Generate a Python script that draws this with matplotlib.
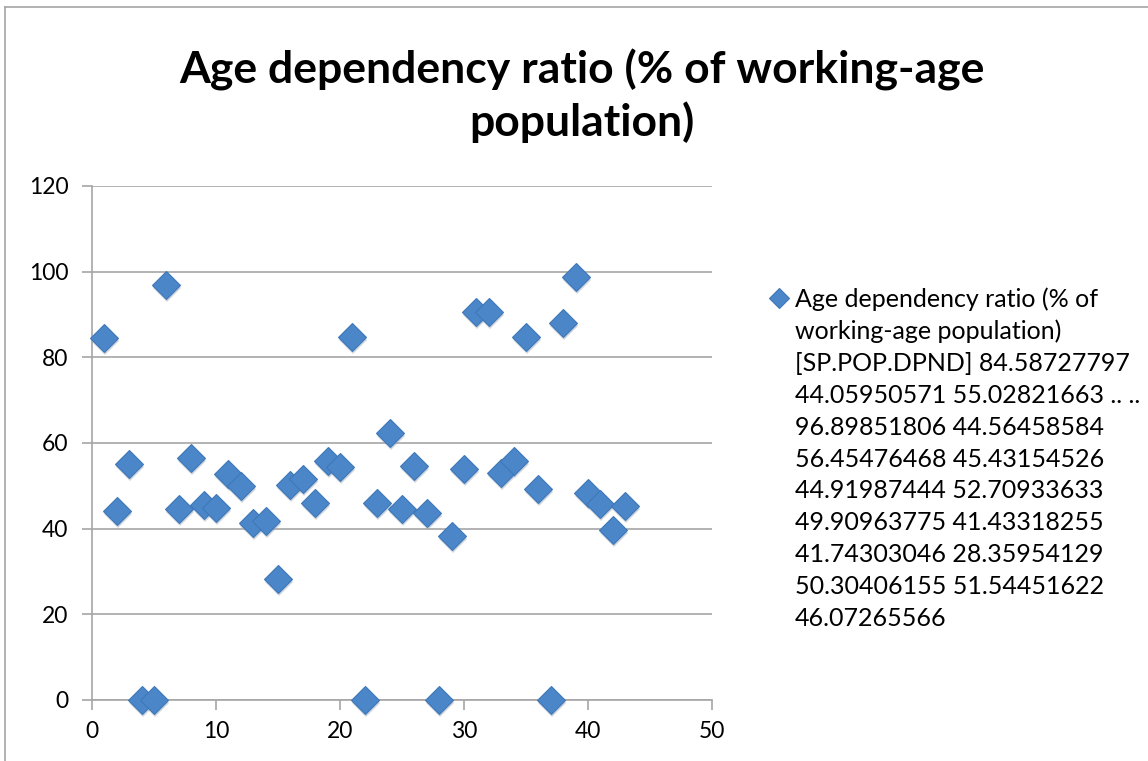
import matplotlib
matplotlib.use("Agg")
import matplotlib.pyplot as plt
from matplotlib.transforms import ScaledTranslation

# data
x_vals = list(range(1, 44))
y_vals = [84.58727797, 44.05950571, 55.02821663, 0, 0,
          96.89851806, 44.56458584, 56.45476468, 45.43154526, 44.91987444,
          52.70933633, 49.90963775, 41.43318255, 41.74303046, 28.35954129,
          50.30406155, 51.54451622, 46.07265566, 55.7, 54.4,
          84.8, 0, 45.9, 62.4, 44.7,
          54.6, 43.6, 0, 38.3, 54.0,
          90.7, 90.6, 53.0, 55.9, 84.8,
          49.3, 0, 88.1, 98.7, 48.4,
          45.8, 39.6, 45.4]
x_ticks = [0, 10, 20, 30, 40, 50]
y_ticks = [0, 20, 40, 60, 80, 100, 120]

title = 'Age dependency ratio (% of working-age\npopulation)'
legend_lines = ['Age dependency ratio (% of',
                'working-age population)',
                '[SP.POP.DPND] 84.58727797',
                '44.05950571 55.02821663 .. ..',
                '96.89851806 44.56458584',
                '56.45476468 45.43154526',
                '44.91987444 52.70933633',
                '49.90963775 41.43318255',
                '41.74303046 28.35954129',
                '50.30406155 51.54451622',
                '46.07265566']

plt.rcParams['font.family'] = ['Lato', 'DejaVu Sans']

fig = plt.figure(figsize=(11.48, 7.61), dpi=100)
ax = fig.add_axes([92/1148, 1 - 700/761, 620/1148, 514/761])

grey = '#a6a6a6'
blue = '#4a86c8'

# shadow then marker
shift = ax.transData + ScaledTranslation(1/100, -3/100, fig.dpi_scale_trans)
ax.plot(x_vals, y_vals, linestyle='none', marker='D', markersize=14,
        color='#9aa6b4', alpha=0.45, markeredgewidth=0,
        transform=shift, zorder=2, clip_on=False)
pts, = ax.plot(x_vals, y_vals, linestyle='none', marker='D', markersize=14,
               color=blue, markeredgecolor='#3f78b8', markeredgewidth=0.8,
               zorder=3, clip_on=False)

ax.set_xlim(0, 50)
ax.set_ylim(0, 120)
ax.set_xticks(x_ticks)
ax.set_yticks(y_ticks)
ax.grid(axis='y', color=grey, linewidth=1.2)
ax.set_axisbelow(True)

for s in ['top', 'right']:
    ax.spines[s].set_visible(False)
for s in ['left', 'bottom']:
    ax.spines[s].set_color(grey)
    ax.spines[s].set_linewidth(1.2)
ax.tick_params(axis='both', colors=grey, labelcolor='black', labelsize=16.5,
               length=7, width=1.2)
ax.tick_params(axis='y', pad=10)
ax.tick_params(axis='x', pad=8)

fig.text(582/1148, 1 - 96/761, title, fontsize=32, fontweight='bold',
         ha='center', va='center', linespacing=1.3)

# legend: marker on first line only
blank = plt.Line2D([], [], linestyle='none', marker='none')
handles = [pts] + [blank] * (len(legend_lines) - 1)
leg = fig.legend(handles, legend_lines, loc='upper left',
                 bbox_to_anchor=(770/1148, 1 - 287/761), frameon=False,
                 fontsize=18, handlelength=0.7, handletextpad=0.3,
                 markerscale=0.7, labelspacing=0.355, borderpad=0,
                 borderaxespad=0)

# outer chart frame
fig.add_artist(plt.Line2D([5/1148, 5/1148], [0, 1 - 7/761], color=grey, linewidth=1.2))
fig.add_artist(plt.Line2D([5/1148, 1], [1 - 7/761, 1 - 7/761], color=grey, linewidth=1.2))

fig.savefig('out.png', dpi=100)
